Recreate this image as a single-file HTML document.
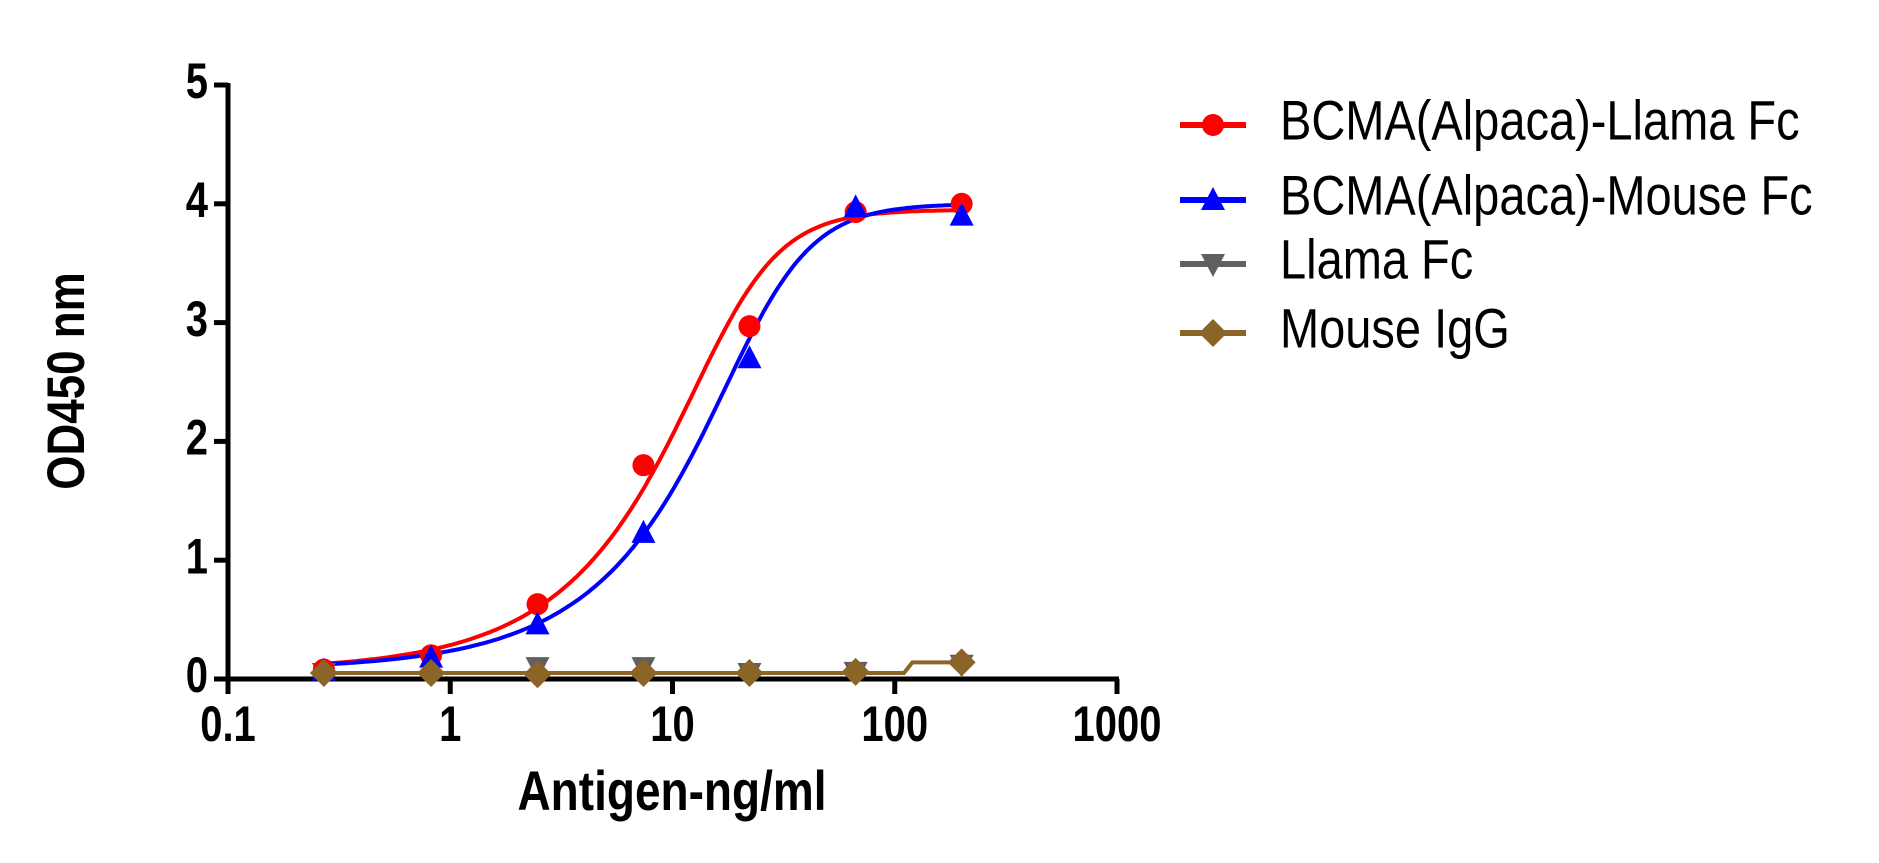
<!DOCTYPE html>
<html><head><meta charset="utf-8"><style>
html,body{margin:0;padding:0;background:#fff;}
svg{display:block;font-family:"Liberation Sans",Arial,sans-serif;}
</style></head><body>
<svg id="chart" width="1879" height="863" viewBox="0 0 1879 863">
<g id="axes"></g>
<g id="series"></g>
<g id="legend"></g>
<text transform="translate(70 381) rotate(-90) scale(1,1.2)" x="0" y="0" text-anchor="middle" dominant-baseline="middle" font-size="44" font-weight="bold">OD450 nm</text>
<text transform="translate(672 810) scale(1,1.2)" x="0" y="0" text-anchor="middle" font-size="46" font-weight="bold">Antigen-ng/ml</text>
</svg>
<script>
const concentrations = [0.27, 0.82, 2.47, 7.4, 22.2, 66.7, 200];
const llamaFcFusion = [0.08, 0.2, 0.63, 1.8, 2.97, 3.93, 4.0];
const mouseFcFusion = [0.07, 0.18, 0.46, 1.23, 2.7, 3.97, 3.9];
const llamaFc = [0.05, 0.13, 0.1, 0.1, 0.05, 0.06, 0.12];
const mouseIgG = [0.05, 0.05, 0.04, 0.05, 0.05, 0.06, 0.14];
const redFit = [0.07, 3.95, 18, 2.5, 0.4];   // bottom, top, c, hill, asymmetry
const blueFit = [0.08, 4.0, 25, 2.5, 0.4];
const yTicks = [0, 1, 2, 3, 4, 5];
const xTicks = [0.1, 1, 10, 100, 1000];
const xTickLabels = ["0.1", "1", "10", "100", "1000"];
const legendLabels = ["BCMA(Alpaca)-Llama Fc", "BCMA(Alpaca)-Mouse Fc", "Llama Fc", "Mouse IgG"];

const NS = "http://www.w3.org/2000/svg";
const X0 = 228, X1 = 1117, Y0 = 679, Y1 = 85;
function xs(v){ return X0 + (Math.log10(v) - Math.log10(0.1)) / 4 * (X1 - X0); }
function ys(v){ return Y0 - v / 5 * (Y0 - Y1); }
function mk(tag, attrs, parent){ const e = document.createElementNS(NS, tag); for (const k in attrs) e.setAttribute(k, attrs[k]); parent.appendChild(e); return e; }

const axes = document.getElementById('axes');
let a = mk('line', {x1:X0, y1:Y1-2, x2:X0, y2:Y0+2, stroke:'#000','stroke-width':5}, axes);


a = mk('line', {x1:X0-2, y1:Y0, x2:X1+2, y2:Y0, stroke:'#000','stroke-width':5}, axes);


yTicks.forEach(t => {
  const y = ys(t);
  const l = mk('line', {x1:X0-14, y1:y, x2:X0, y2:y, stroke:'#000','stroke-width':5}, axes);
  
  
  const tx = mk('text', {transform:`translate(${X0-20} ${y}) scale(1,1.25)`, x:0, y:0, 'text-anchor':'end', 'dominant-baseline':'middle', 'font-size':40, 'font-weight':'bold'}, axes);
  tx.textContent = t;
  
  
});
xTicks.forEach((t, i) => {
  const x = xs(t);
  const l = mk('line', {x1:x, y1:Y0, x2:x, y2:Y0+15, stroke:'#000','stroke-width':5}, axes);
  
  
  const tx = mk('text', {transform:`translate(${x} ${Y0+62}) scale(1,1.25)`, x:0, y:0, 'text-anchor':'middle', 'font-size':40, 'font-weight':'bold'}, axes);
  tx.textContent = xTickLabels[i];
  
  
});

const series = document.getElementById('series');
function fivePL(p, x){ return p[0] + (p[1] - p[0]) / Math.pow(1 + Math.pow(p[2] / x, p[3]), p[4]); }
function curve(p, color, name){
  let d = '';
  const lo = Math.log10(concentrations[0]), hi = Math.log10(concentrations[concentrations.length-1]);
  for (let i = 0; i <= 200; i++){ const x = Math.pow(10, lo + (hi - lo) * i / 200); d += (i ? 'L' : 'M') + xs(x).toFixed(1) + ',' + ys(fivePL(p, x)).toFixed(1); }
  const e = mk('path', {d:d, fill:'none', stroke:color, 'stroke-width':4}, series);
  
  
}
function marker(shape, x, y, color, g){
  let e;
  if (shape === 'circle') e = mk('circle', {cx:x, cy:y, r:11, fill:color}, g);
  else if (shape === 'up') e = mk('polygon', {points:`${x},${y-13} ${x-12},${y+10} ${x+12},${y+10}`, fill:color}, g);
  else if (shape === 'down') e = mk('polygon', {points:`${x},${y+13} ${x-12},${y-10} ${x+12},${y-10}`, fill:color}, g);
  else e = mk('polygon', {points:`${x},${y-14} ${x+14},${y} ${x},${y+14} ${x-14},${y}`, fill:color}, g);
  return e;
}
function points(vals, shape, color, name){
  const g = mk('g', {}, series);
  
  
  vals.forEach((v, i) => {
    const m = marker(shape, xs(concentrations[i]), ys(v), color, g);
    
    
  });
}
(function(){
  const flat = mouseIgG.slice(0, -1).reduce((s, v) => s + v, 0) / (mouseIgG.length - 1);
  const last = mouseIgG[mouseIgG.length - 1];
  const d = `M${xs(concentrations[0])},${ys(flat)} L${xs(110)},${ys(flat)} L${xs(120)},${ys(last)} L${xs(concentrations[6])},${ys(last)}`;
  const e = mk('path', {d:d, fill:'none', stroke:'#8B6428', 'stroke-width':4}, series);
  
  
})();
curve(redFit, '#FF0000', 'llama-fc-fusion-fit');
curve(blueFit, '#0000FF', 'mouse-fc-fusion-fit');
points(llamaFc, 'down', '#606060', 'llama-fc-points');
points(llamaFcFusion, 'circle', '#FF0000', 'llama-fc-fusion-points');
points(mouseFcFusion, 'up', '#0000FF', 'mouse-fc-fusion-points');
points(mouseIgG, 'diamond', '#8B6428', 'mouse-igg-points');

const legend = document.getElementById('legend');
const legColors = ['#FF0000', '#0000FF', '#606060', '#8B6428'];
const legShapes = ['circle', 'up', 'down', 'diamond'];
const legY = [125, 200, 264, 333];
legendLabels.forEach((lab, i) => {
  const g = mk('g', {}, legend);
  
  
  mk('line', {x1:1180, y1:legY[i], x2:1246, y2:legY[i], stroke:legColors[i], 'stroke-width':6}, g);
  marker(legShapes[i], 1213, legY[i], legColors[i], g);
  const t = mk('text', {transform:`translate(1280 ${legY[i]}) scale(1,1.18)`, x:0, y:0, 'dominant-baseline':'middle', 'font-size':47}, g);
  t.textContent = lab;
  
  
});
</script>
</body></html>
